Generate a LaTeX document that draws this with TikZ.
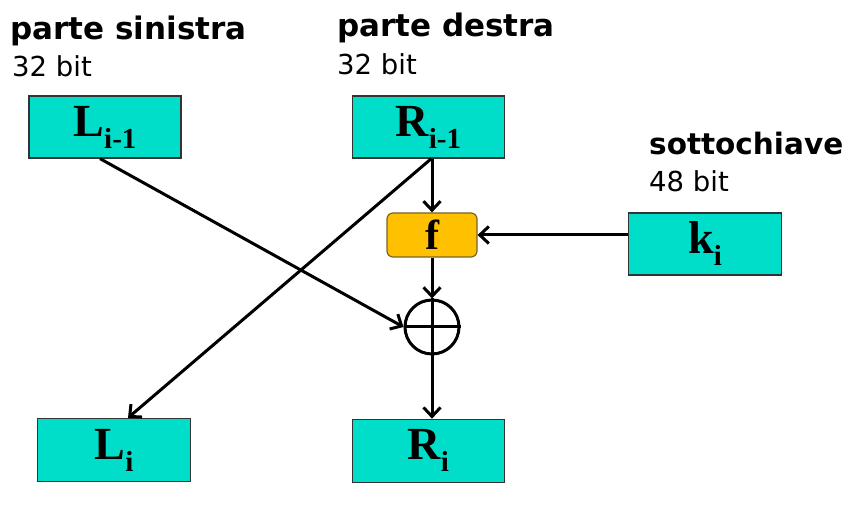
\documentclass[tikz,border=0pt]{standalone}
\usepackage{fontspec}
\setmainfont{Liberation Serif}
\newfontfamily\notefont{DejaVu Sans}
\usetikzlibrary{arrows.meta, positioning, shapes.geometric}

\definecolor{blockfill}{RGB}{0,222,202}
\definecolor{ffill}{RGB}{255,192,0}
\definecolor{fdraw}{RGB}{120,100,40}

\newcommand{\blocklabel}[2]{{\bfseries\fontsize{46}{46}\selectfont #1}\raisebox{-12pt}{\bfseries\fontsize{29}{29}\selectfont #2}}

\begin{document}
\begin{tikzpicture}[
    x=1pt, y=1pt,
    % === STYLES ===
    block/.style={
        rectangle,
        draw=black!80,
        fill=blockfill,
        line width=1.3pt,
        minimum width=152pt,
        minimum height=62pt,
        inner sep=0pt,
        text centered
    },
    fbox/.style={
        rectangle,
        draw=fdraw,
        fill=ffill,
        line width=1.2pt,
        rounded corners=6pt,
        minimum width=90pt,
        minimum height=44pt,
        inner sep=0pt,
        font=\bfseries\fontsize{42}{42}\selectfont
    },
    xorgate/.style={
        circle,
        draw=black,
        line width=3pt,
        minimum size=54pt,
        inner sep=0pt
    },
    arrow/.style={
        -{Straight Barb[length=9pt,width=17pt,line width=3pt]},
        line width=3pt,
        color=black
    },
    title/.style={
        anchor=base west,
        inner sep=0pt,
        font=\notefont\bfseries\fontsize{31}{31}\selectfont
    },
    bits/.style={
        anchor=base west,
        inner sep=0pt,
        font=\notefont\fontsize{27.5}{27.5}\selectfont
    }
]
\useasboundingbox (0,0) rectangle (857,505);

% === INPUT HALVES ===
\node[block] (lprev) at (105,378) {\blocklabel{L}{i-1}};
\node[block, right=170pt of lprev] (rprev) {\blocklabel{R}{i-1}};

% === ROUND FUNCTION ===
\node[fbox] (f) at (432,270) {f};
\node[xorgate] (xor) at (432,178) {};
\draw[line width=3pt] (xor.north) -- (xor.south);
\draw[line width=3pt] (xor.west) -- (xor.east);

% === SUBKEY ===
\node[block, minimum width=153pt] (key) at (705,261) {\blocklabel{k}{i}};

% === OUTPUT HALVES ===
\node[block, minimum width=153pt, minimum height=63pt] (li) at (114,55) {\blocklabel{L}{i}};
\node[block, minimum height=63pt, below=260pt of rprev] (ri) {\blocklabel{R}{i}};

% === LABELS ===
\node[title] (sinistra) at (10,465) {parte sinistra};
\node[bits] (sinbits) at (12,428) {32 bit};
\node[title] (destra) at (337,468) {parte destra};
\node[bits] (desbits) at (337,430) {32 bit};
\node[title, font=\notefont\bfseries\fontsize{29.5}{29.5}\selectfont] (sotto) at (649,350) {sottochiave};
\node[bits] (sotbits) at (649,313) {48 bit};

% === CONNECTIONS ===
\draw[arrow] (rprev.south -| f.north) -- (f.north);
\draw[arrow] (key.west |- f.east) -- (f.east);
\draw[arrow] (f.south) -- (xor.north);
\draw[arrow] (xor.south) -- (ri.north -| xor.south);

% Crossing lines
\draw[arrow] ([xshift=-5pt]lprev.south) -- (xor.west);
\draw[arrow] ([xshift=3pt]rprev.south) -- ([xshift=14pt]li.north);

\end{tikzpicture}
\end{document}
